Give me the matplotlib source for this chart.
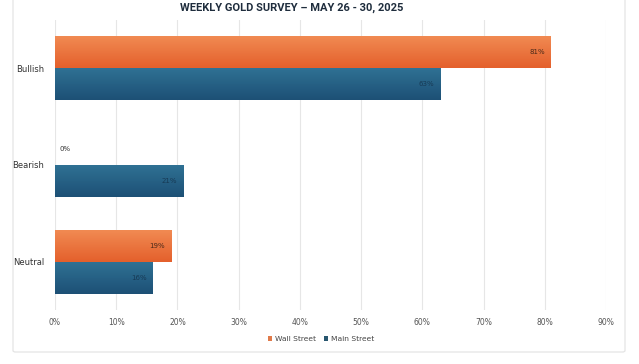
import numpy as np
import matplotlib.pyplot as plt
from matplotlib.patches import FancyBboxPatch, Patch
from matplotlib.colors import LinearSegmentedColormap

categories = ['Bullish', 'Bearish', 'Neutral']
wall_street = [81, 0, 19]
main_street = [63, 21, 16]
series_names = ['Wall Street', 'Main Street']
xticks = [0, 10, 20, 30, 40, 50, 60, 70, 80, 90]

orange_top, orange_bot = '#f18a52', '#e4602c'
blue_top, blue_bot = '#2f7194', '#1d5075'

fig = plt.figure(figsize=(6.39, 3.64), dpi=100)
fig.patch.set_facecolor('white')

# carta bianca con bordo (il bordo superiore esce dall'immagine)
card = FancyBboxPatch((13 / 639, 12 / 364), 612 / 639, 362 / 364,
                      boxstyle='round,pad=0,rounding_size=0.004',
                      transform=fig.transFigure, facecolor='white',
                      edgecolor='#e4e4e4', linewidth=0.9, zorder=-5)
fig.patches.append(card)

ax = fig.add_axes([55 / 639, 1 - 310 / 364, 551 / 639, 290 / 364])
ax.set_facecolor('none')

y = np.arange(len(categories))
h = 0.33


def gradient_bars(vals, offset, ctop, cbot):
    cmap = LinearSegmentedColormap.from_list('g', [ctop, cbot])
    bars = ax.barh(y + offset, vals, height=h, color=cbot, zorder=2)
    grad = np.linspace(0, 1, 64).reshape(-1, 1)
    for b in bars:
        if b.get_width() <= 0:
            continue
        x0, y0 = b.get_x(), b.get_y()
        im = ax.imshow(grad, cmap=cmap, aspect='auto', origin='upper',
                       extent=[x0, x0 + b.get_width(), y0 + b.get_height(), y0],
                       zorder=3, interpolation='bicubic')
        im.set_clip_path(b)
    return bars


gradient_bars(wall_street, -h / 2, orange_top, orange_bot)
gradient_bars(main_street, h / 2, blue_top, blue_bot)

for i in range(len(categories)):
    for vals, off, col in ((wall_street, -h / 2, '#4a2a1a'), (main_street, h / 2, '#173a55')):
        v = vals[i]
        if v > 0:
            ax.text(v - 1.0, y[i] + off, f'{v}%', ha='right', va='center',
                    fontsize=5, color=col, zorder=4)
        else:
            ax.text(0.8, y[i] - 0.165, f'{v}%', ha='left', va='center',
                    fontsize=5, color='#333333', zorder=4)

ax.set_xlim(0, 90)
ax.set_ylim(2.5, -0.5)
ax.set_xticks(xticks)
ax.set_xticklabels([f'{t}%' for t in xticks], fontsize=5.5, color='#555555')
ax.set_yticks(y)
ax.set_yticklabels(categories, fontsize=6, color='#333333')
ax.tick_params(axis='x', length=0, pad=6)
ax.tick_params(axis='y', length=0, pad=8)
ax.grid(True, axis='x', color='#e6e6e6', linewidth=0.8, zorder=0)
ax.set_axisbelow(True)
for s in ax.spines.values():
    s.set_visible(False)

fig.text(292 / 639, 1 - 8 / 364, 'WEEKLY GOLD SURVEY \u2013 MAY 26 - 30, 2025',
         ha='center', va='center', fontsize=8, fontweight='bold',
         color='#1f2d3d', family=['Roboto', 'DejaVu Sans'])

handles = [Patch(facecolor='#e07a4a', label=series_names[0]),
           Patch(facecolor='#28566f', label=series_names[1])]
fig.legend(handles=handles, loc='center', bbox_to_anchor=(321 / 639, 1 - 339 / 364),
           ncol=2, frameon=False, fontsize=5.4, handlelength=0.6, handleheight=0.6,
           handletextpad=0.4, columnspacing=1.0, labelcolor='#444444')

fig.savefig('out.png', dpi=100)
